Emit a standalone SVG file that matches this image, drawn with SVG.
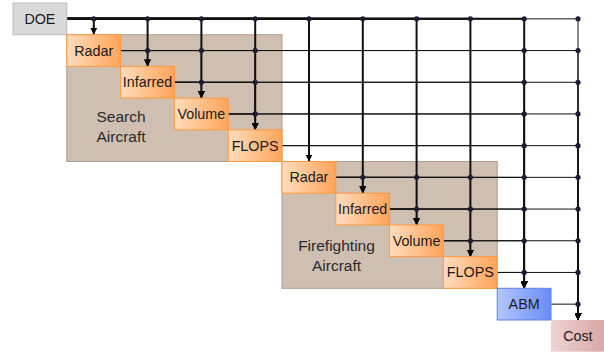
<svg xmlns="http://www.w3.org/2000/svg" width="604" height="354" viewBox="0 0 604 354">
<defs>
<linearGradient id="gOr" x1="0" y1="0" x2="1" y2="0"><stop offset="0" stop-color="#ffdcbd"/><stop offset="1" stop-color="#ffa459"/></linearGradient>
<linearGradient id="gBl" x1="0" y1="0" x2="1" y2="0"><stop offset="0" stop-color="#b3c6ff"/><stop offset="1" stop-color="#6a8cf4"/></linearGradient>
<linearGradient id="gPk" x1="0" y1="0" x2="1" y2="0"><stop offset="0" stop-color="#eed3d3"/><stop offset="1" stop-color="#d9a6a6"/></linearGradient>
<marker id="arr" viewBox="0 0 10 10" refX="10" refY="5" markerWidth="7" markerHeight="7" markerUnits="userSpaceOnUse" orient="auto"><path d="M0,0 L10,5 L0,10 z" fill="#000"/></marker>
</defs>
<style>
text{font-family:"Liberation Sans",Arial,sans-serif;font-size:14.3px;fill:#1a1a1a;text-anchor:middle}
.grp{fill:#cfbfb1;stroke:#ad9d8f;stroke-width:1}
.grp-t{font-size:15.5px;fill:#2a2a2a}
.or{fill:url(#gOr);stroke:#ff9a40;stroke-width:1}
.bl{fill:url(#gBl);stroke:#5d80ea;stroke-width:1}
.pk{fill:url(#gPk);stroke:none}
.doe{fill:#d9d9d9;stroke:#bdbdbd;stroke-width:1}
.c{fill:none;stroke:#111;stroke-width:1}
.c.a{marker-end:url(#arr)}
.top{stroke-width:2}
.d{fill:#1c1c36}
</style>

<g id="search-aircraft">
<rect class="grp" x="66.8" y="34.7" width="215.2" height="126.8"/>
<text class="grp-t" x="121" y="122.3">Search</text>
<text class="grp-t" x="121" y="142">Aircraft</text>
</g>
<g id="firefighting-aircraft">
<rect class="grp" x="282" y="161.5" width="215.2" height="126.8"/>
<text class="grp-t" x="336.5" y="251">Firefighting</text>
<text class="grp-t" x="336.5" y="270.5">Aircraft</text>
</g>

<g id="connectors">
<path class="c a top" d="M66.8,18.85 H93.8 V34.7"/>
<path class="c a top" d="M66.8,18.85 H147.6 V66.4"/>
<path class="c a top" d="M66.8,18.85 H201.4 V98.1"/>
<path class="c a top" d="M66.8,18.85 H255.2 V129.8"/>
<path class="c a top" d="M66.8,18.85 H309 V161.5"/>
<path class="c a top" d="M66.8,18.85 H362.8 V193.2"/>
<path class="c a top" d="M66.8,18.85 H416.6 V224.9"/>
<path class="c a top" d="M66.8,18.85 H470.4 V256.6"/>
<path class="c a top" d="M66.8,18.85 H524.2 V288.3"/>
<path class="c a" d="M66.8,18.85 H578 V320"/>
<path class="c a" d="M120.6,50.55 H147.6 V66.4"/>
<path class="c a" d="M120.6,50.55 H201.4 V98.1"/>
<path class="c a" d="M120.6,50.55 H255.2 V129.8"/>
<path class="c a" d="M120.6,50.55 H524.2 V288.3"/>
<path class="c a" d="M120.6,50.55 H578 V320"/>
<path class="c a" d="M174.4,82.25 H201.4 V98.1"/>
<path class="c a" d="M174.4,82.25 H255.2 V129.8"/>
<path class="c a" d="M174.4,82.25 H524.2 V288.3"/>
<path class="c a" d="M174.4,82.25 H578 V320"/>
<path class="c a" d="M228.2,113.95 H255.2 V129.8"/>
<path class="c a" d="M228.2,113.95 H524.2 V288.3"/>
<path class="c a" d="M228.2,113.95 H578 V320"/>
<path class="c a" d="M282,145.65 H524.2 V288.3"/>
<path class="c a" d="M282,145.65 H578 V320"/>
<path class="c a" d="M335.8,177.35 H362.8 V193.2"/>
<path class="c a" d="M335.8,177.35 H416.6 V224.9"/>
<path class="c a" d="M335.8,177.35 H470.4 V256.6"/>
<path class="c a" d="M335.8,177.35 H524.2 V288.3"/>
<path class="c a" d="M335.8,177.35 H578 V320"/>
<path class="c a" d="M389.6,209.05 H416.6 V224.9"/>
<path class="c a" d="M389.6,209.05 H470.4 V256.6"/>
<path class="c a" d="M389.6,209.05 H524.2 V288.3"/>
<path class="c a" d="M389.6,209.05 H578 V320"/>
<path class="c a" d="M443.4,240.75 H470.4 V256.6"/>
<path class="c a" d="M443.4,240.75 H524.2 V288.3"/>
<path class="c a" d="M443.4,240.75 H578 V320"/>
<path class="c a" d="M497.2,272.45 H524.2 V288.3"/>
<path class="c a" d="M497.2,272.45 H578 V320"/>
<path class="c a" d="M551,304.15 H578 V320"/>
<g class="d">
<circle cx="93.8" cy="18.85" r="2.6"/><circle cx="147.6" cy="18.85" r="2.6"/><circle cx="201.4" cy="18.85" r="2.6"/><circle cx="255.2" cy="18.85" r="2.6"/><circle cx="309" cy="18.85" r="2.6"/><circle cx="362.8" cy="18.85" r="2.6"/><circle cx="416.6" cy="18.85" r="2.6"/><circle cx="470.4" cy="18.85" r="2.6"/><circle cx="524.2" cy="18.85" r="2.6"/><circle cx="578" cy="18.85" r="2.6"/>
<circle cx="147.6" cy="50.55" r="2.6"/><circle cx="201.4" cy="50.55" r="2.6"/><circle cx="255.2" cy="50.55" r="2.6"/><circle cx="524.2" cy="50.55" r="2.6"/><circle cx="578" cy="50.55" r="2.6"/>
<circle cx="201.4" cy="82.25" r="2.6"/><circle cx="255.2" cy="82.25" r="2.6"/><circle cx="524.2" cy="82.25" r="2.6"/><circle cx="578" cy="82.25" r="2.6"/>
<circle cx="255.2" cy="113.95" r="2.6"/><circle cx="524.2" cy="113.95" r="2.6"/><circle cx="578" cy="113.95" r="2.6"/>
<circle cx="524.2" cy="145.65" r="2.6"/><circle cx="578" cy="145.65" r="2.6"/>
<circle cx="362.8" cy="177.35" r="2.6"/><circle cx="416.6" cy="177.35" r="2.6"/><circle cx="470.4" cy="177.35" r="2.6"/><circle cx="524.2" cy="177.35" r="2.6"/><circle cx="578" cy="177.35" r="2.6"/>
<circle cx="416.6" cy="209.05" r="2.6"/><circle cx="470.4" cy="209.05" r="2.6"/><circle cx="524.2" cy="209.05" r="2.6"/><circle cx="578" cy="209.05" r="2.6"/>
<circle cx="470.4" cy="240.75" r="2.6"/><circle cx="524.2" cy="240.75" r="2.6"/><circle cx="578" cy="240.75" r="2.6"/>
<circle cx="524.2" cy="272.45" r="2.6"/><circle cx="578" cy="272.45" r="2.6"/>
<circle cx="578" cy="304.15" r="2.6"/>
</g>
</g>

<g id="doe"><rect class="doe" x="13" y="3" width="53.8" height="31.7"/><text x="39.9" y="24">DOE</text></g>
<g id="radar-search"><rect class="or" x="66.8" y="34.7" width="53.8" height="31.7"/><text x="93.7" y="55.5">Radar</text></g>
<g id="infarred-search"><rect class="or" x="120.6" y="66.4" width="53.8" height="31.7"/><text x="147.5" y="87.2">Infarred</text></g>
<g id="volume-search"><rect class="or" x="174.4" y="98.1" width="53.8" height="31.7"/><text x="201.3" y="118.9">Volume</text></g>
<g id="flops-search"><rect class="or" x="228.2" y="129.8" width="53.8" height="31.7"/><text x="255.1" y="150.6">FLOPS</text></g>
<g id="radar-fire"><rect class="or" x="282" y="161.5" width="53.8" height="31.7"/><text x="308.9" y="182.3">Radar</text></g>
<g id="infarred-fire"><rect class="or" x="335.8" y="193.2" width="53.8" height="31.7"/><text x="362.7" y="214">Infarred</text></g>
<g id="volume-fire"><rect class="or" x="389.6" y="224.9" width="53.8" height="31.7"/><text x="416.5" y="245.7">Volume</text></g>
<g id="flops-fire"><rect class="or" x="443.4" y="256.6" width="53.8" height="31.7"/><text x="470.3" y="277.4">FLOPS</text></g>
<g id="abm"><rect class="bl" x="497.2" y="288.3" width="53.8" height="31.7"/><text x="524.1" y="309.1">ABM</text></g>
<g id="cost"><rect class="pk" x="551" y="320" width="53.8" height="31.7"/><text x="577.9" y="340.8">Cost</text></g>
</svg>
